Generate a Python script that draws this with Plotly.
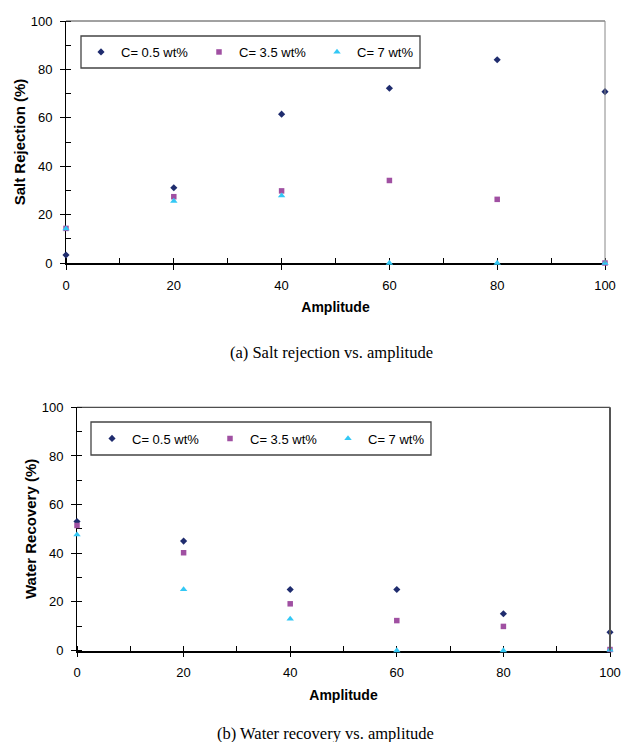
import plotly.graph_objects as go

amplitude = [0, 20, 40, 60, 80, 100]

# (a) Salt rejection (%)
salt_c05 = [3.3, 31.1, 61.5, 72.2, 84.0, 70.8]
salt_c35 = [14.3, 27.4, 29.8, 34.1, 26.3, 0.0]
salt_c7 = [14.2, 25.6, 27.8, 0.0, 0.0, 0.0]

# (b) Water recovery (%)
water_c05 = [53.0, 45.0, 25.1, 25.1, 15.1, 7.5]
water_c35 = [51.4, 40.2, 19.2, 12.3, 9.9, 0.4]
water_c7 = [47.6, 25.1, 13.0, 0.0, 0.0, 0.3]

series_names = ["C= 0.5 wt%", "C= 3.5 wt%", "C= 7 wt%"]
colors = ["#1f2c6e", "#a050a2", "#33c8f5"]
symbols = ["diamond", "square", "triangle-up"]
sizes = [5.5, 5.5, 6.5]

# the page body adds an 8px margin, so the figure is smaller and all
# target pixel positions are shifted by OFF
OFF = 8
W, H = 630 - OFF, 750 - 2 * OFF
FONT = "Liberation Sans, Arial, sans-serif"
SERIF = "Liberation Serif, Times New Roman, serif"


def px(v):
    return (v - OFF) / W


def py(v):
    return 1 - (v - OFF) / H


fig = go.Figure()

for i, ys in enumerate([salt_c05, salt_c35, salt_c7]):
    fig.add_trace(go.Scatter(
        x=amplitude, y=ys, mode="markers", name=series_names[i],
        marker=dict(symbol=symbols[i], color=colors[i], size=sizes[i], line=dict(width=0)),
        xaxis="x", yaxis="y", legend="legend", cliponaxis=False))

for i, ys in enumerate([water_c05, water_c35, water_c7]):
    fig.add_trace(go.Scatter(
        x=amplitude, y=ys, mode="markers", name=series_names[i],
        marker=dict(symbol=symbols[i], color=colors[i], size=sizes[i], line=dict(width=0)),
        xaxis="x2", yaxis="y2", legend="legend2", cliponaxis=False))

# target pixel geometry of the two plot areas (in the 630x750 window)
top = dict(l=66, r=605, t=21, b=263)
bot = dict(l=77, r=610, t=407.3, b=650.5)


def xdom(p):
    return [px(p["l"]), px(p["r"])]


def ydom(p):
    return [py(p["b"]), py(p["t"])]


tickfont = dict(family=FONT, size=13, color="#000")


def xaxis_cfg(p, anchor, linew):
    return dict(domain=xdom(p), anchor=anchor, range=[0, 100], dtick=20, tick0=0,
                automargin=False, layer="below traces", ticklabeloverflow="allow",
                showgrid=False, zeroline=False, showline=True, linecolor="#000",
                linewidth=linew, ticks="outside", ticklen=5, tickwidth=1, tickcolor="#000",
                minor=dict(dtick=10, ticks="inside", ticklen=5, tickwidth=1, tickcolor="#000"),
                tickfont=tickfont, ticklabelstandoff=4,
                title=dict(text="<b>Amplitude</b>", font=dict(family=FONT, size=14, color="#000"),
                           standoff=11))


def yaxis_cfg(p, anchor, title):
    return dict(domain=ydom(p), anchor=anchor, range=[0, 100], dtick=20, tick0=0,
                automargin=False, layer="below traces",
                showgrid=False, zeroline=False, showline=True, linecolor="#000",
                linewidth=1, ticks="outside", ticklen=5, tickwidth=1, tickcolor="#000",
                minor=dict(dtick=10, ticks="inside", ticklen=5, tickwidth=1, tickcolor="#000"),
                tickfont=tickfont, ticklabelstandoff=5,
                title=dict(text="<b>" + title + "</b>", font=dict(family=FONT, size=15, color="#000"),
                           standoff=1))


legend_common = dict(orientation="h", font=dict(family=FONT, size=13, color="#000"),
                     bgcolor="rgba(0,0,0,0)", borderwidth=0, xanchor="left", yanchor="middle",
                     itemwidth=30, entrywidth=73, entrywidthmode="pixels",
                     tracegroupgap=0, itemclick=False)

fig.update_layout(
    width=W, height=H, margin=dict(l=0, r=0, t=0, b=0, autoexpand=False),
    paper_bgcolor="white", plot_bgcolor="white", showlegend=True,
    xaxis=xaxis_cfg(top, "y", 2),
    yaxis=yaxis_cfg(top, "x", "Salt Rejection (%)"),
    xaxis2=xaxis_cfg(bot, "y2", 1.5),
    yaxis2=yaxis_cfg(bot, "x2", "Water Recovery (%)"),
    legend=dict(legend_common, x=px(81), y=py(52)),
    legend2=dict(legend_common, x=px(92), y=py(438.5)),
)

# frame lines (top / right) of each plot area and legend boxes
fig.add_shape(type="line", xref="x domain", yref="y domain", x0=0, x1=1, y0=1, y1=1,
              line=dict(color="#444", width=1))
fig.add_shape(type="line", xref="x domain", yref="y domain", x0=1, x1=1, y0=0, y1=1,
              line=dict(color="#888", width=1))
fig.add_shape(type="line", xref="x2 domain", yref="y2 domain", x0=0, x1=1, y0=1, y1=1,
              line=dict(color="#222", width=1))
fig.add_shape(type="line", xref="x2 domain", yref="y2 domain", x0=1, x1=1, y0=0, y1=1,
              line=dict(color="#555", width=2))

fig.add_shape(type="rect", xref="x domain", yref="y domain",
              x0=(81 - 66) / 539, x1=(420 - 66) / 539, y0=(263 - 68) / 242, y1=(263 - 36) / 242,
              line=dict(color="#444", width=1.3), fillcolor="white", layer="below")
fig.add_shape(type="rect", xref="x2 domain", yref="y2 domain",
              x0=(91 - 77) / 533, x1=(431 - 77) / 533, y0=(650.5 - 455) / 243.2,
              y1=(650.5 - 422) / 243.2,
              line=dict(color="#444", width=1.3), fillcolor="white", layer="below")

fig.add_annotation(text="(a) Salt rejection vs. amplitude", xref="paper", yref="paper",
                   x=px(331), y=py(352), showarrow=False, xanchor="center", yanchor="middle",
                   font=dict(family=SERIF, size=16.5, color="#000"))
fig.add_annotation(text="(b) Water recovery vs. amplitude", xref="paper", yref="paper",
                   x=px(325), y=py(733), showarrow=False, xanchor="center", yanchor="middle",
                   font=dict(family=SERIF, size=16.5, color="#000"))

fig.write_html("out.html")
